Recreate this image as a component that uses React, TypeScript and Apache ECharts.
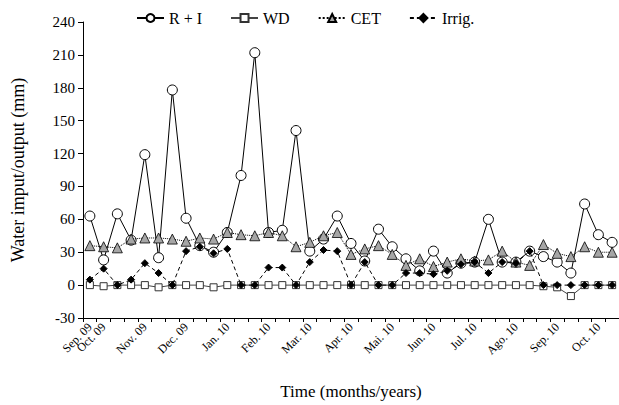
import React, { useEffect, useRef } from "react";
import * as echarts from "echarts";

// 10-day periods (decades), from the last decade of Sep 2009 to the 2nd decade of Oct 2010
const periods = [
  "Sep09-3",
  "Oct09-1", "Oct09-2", "Oct09-3",
  "Nov09-1", "Nov09-2", "Nov09-3",
  "Dec09-1", "Dec09-2", "Dec09-3",
  "Jan10-1", "Jan10-2", "Jan10-3",
  "Feb10-1", "Feb10-2", "Feb10-3",
  "Mar10-1", "Mar10-2", "Mar10-3",
  "Apr10-1", "Apr10-2", "Apr10-3",
  "Mai10-1", "Mai10-2", "Mai10-3",
  "Jun10-1", "Jun10-2", "Jun10-3",
  "Jul10-1", "Jul10-2", "Jul10-3",
  "Ago10-1", "Ago10-2", "Ago10-3",
  "Sep10-1", "Sep10-2", "Sep10-3",
  "Oct10-1", "Oct10-2",
];

const xTickLabels = [
  "Sep. 09",
  "Oct. 09", "", "",
  "Nov. 09", "", "",
  "Dec. 09", "", "",
  "Jan. 10", "", "",
  "Feb. 10", "", "",
  "Mar. 10", "", "",
  "Apr. 10", "", "",
  "Mai. 10", "", "",
  "Jun. 10", "", "",
  "Jul. 10", "", "",
  "Ago. 10", "", "",
  "Sep. 10", "", "",
  "Oct. 10", "",
];

const rainIrr = [
  63, 23, 65, 41, 119, 25, 178, 61, 36, 30, 48, 100, 212, 48, 50, 141, 31, 42, 63,
  38, 22, 51, 35, 24, 13, 31, 11, 20, 21, 60, 21, 21, 31, 26, 21, 11, 74, 46, 39,
];
const wd = [
  0, -1, 0, 0, 0, -2, 0, 0, 0, -2, 0, 0, 0, 0, 0, 0, 0, 0, 0,
  0, 0, 0, 0, 0, 0, 0, 0, 0, 0, 0, 0, 0, 0, -1, -2, -10, 0, 0, 0,
];
const cet = [
  36, 35, 34, 42, 43, 43, 42, 40, 43, 42, 48, 46, 45, 48, 45, 35, 39, 45, 48,
  28, 33, 36, 28, 18, 24, 17, 21, 24, 22, 23, 31, 21, 18, 37, 29, 26, 35, 30, 30,
];
const irrig = [
  5, 15, 0, 5, 20, 11, 0, 31, 35, 29, 33, 0, 0, 16, 16, 0, 21, 32, 31,
  0, 21, 0, 0, 11, 11, 10, 13, 19, 21, 11, 21, 20, 31, 0, 0, 0, 0, 0, 0,
];

const yTicks = { min: -30, max: 240, interval: 30 };

const FONT = "'Liberation Serif', 'Times New Roman', serif";

export default function App() {
  const ref = useRef<HTMLDivElement>(null);

  useEffect(() => {
    if (!ref.current) return;
    const chart = echarts.init(ref.current, null, { renderer: "svg" });
    chart.setOption({
      animation: false,
      backgroundColor: "#fff",
      textStyle: { fontFamily: FONT, color: "#000" },
      legend: {
        top: 5,
        left: 131,
        itemGap: 28,
        itemWidth: 27,
        itemHeight: 10,
        textStyle: { fontFamily: FONT, fontSize: 16, color: "#000" },
        data: ["R + I", "WD", "CET", "Irrig."],
      },
      grid: { left: 83, right: 0, top: 22, bottom: 87, containLabel: false },
      xAxis: {
        type: "category",
        data: periods,
        boundaryGap: true,
        name: "Time (months/years)",
        nameLocation: "middle",
        nameGap: 65,
        nameTextStyle: { fontFamily: FONT, fontSize: 17, color: "#000" },
        axisLine: { onZero: false, lineStyle: { color: "#000", width: 1 } },
        axisTick: { show: true, interval: 0, length: 4, lineStyle: { color: "#000" } },
        axisLabel: {
          interval: 0,
          rotate: 45,
          margin: 7,
          fontFamily: FONT,
          fontSize: 12,
          color: "#000",
          formatter: (_v: string, i: number) => xTickLabels[i],
        },
        splitLine: { show: false },
      },
      yAxis: {
        type: "value",
        min: yTicks.min,
        max: yTicks.max,
        interval: yTicks.interval,
        name: "Water imput/output (mm)",
        nameLocation: "middle",
        nameGap: 56,
        nameTextStyle: { fontFamily: FONT, fontSize: 18, color: "#000" },
        axisLine: { show: true, lineStyle: { color: "#000", width: 1 } },
        axisTick: { show: true, length: 5, lineStyle: { color: "#000" } },
        axisLabel: { fontFamily: FONT, fontSize: 15, color: "#000", margin: 8 },
        splitLine: { show: false },
      },
      series: [
        {
          name: "R + I",
          type: "line",
          data: rainIrr,
          symbol: "circle",
          symbolSize: 10,
          lineStyle: { color: "#000", width: 1, type: "solid" },
          itemStyle: { color: "#fff", borderColor: "#000", borderWidth: 1 },
          z: 2,
        },
        {
          name: "WD",
          type: "line",
          data: wd,
          symbol: "rect",
          symbolSize: 7,
          lineStyle: { color: "#444", width: 1, type: "solid" },
          itemStyle: { color: "#fff", borderColor: "#333", borderWidth: 1 },
          z: 3,
        },
        {
          name: "CET",
          type: "line",
          data: cet,
          symbol: "triangle",
          symbolSize: 10,
          lineStyle: { color: "#000", width: 1, type: "dotted" },
          itemStyle: { color: "#a6a6a6", borderColor: "#000", borderWidth: 0.8 },
          z: 4,
        },
        {
          name: "Irrig.",
          type: "line",
          data: irrig,
          symbol: "diamond",
          symbolSize: 7,
          lineStyle: { color: "#000", width: 1, type: [4, 3] },
          itemStyle: { color: "#000", borderColor: "#000", borderWidth: 1 },
          z: 5,
        },
      ],
    });
    return () => chart.dispose();
  }, []);

  return <div ref={ref} style={{ width: 619, height: 405, position: "absolute", left: 0, top: 0 }} />;
}
